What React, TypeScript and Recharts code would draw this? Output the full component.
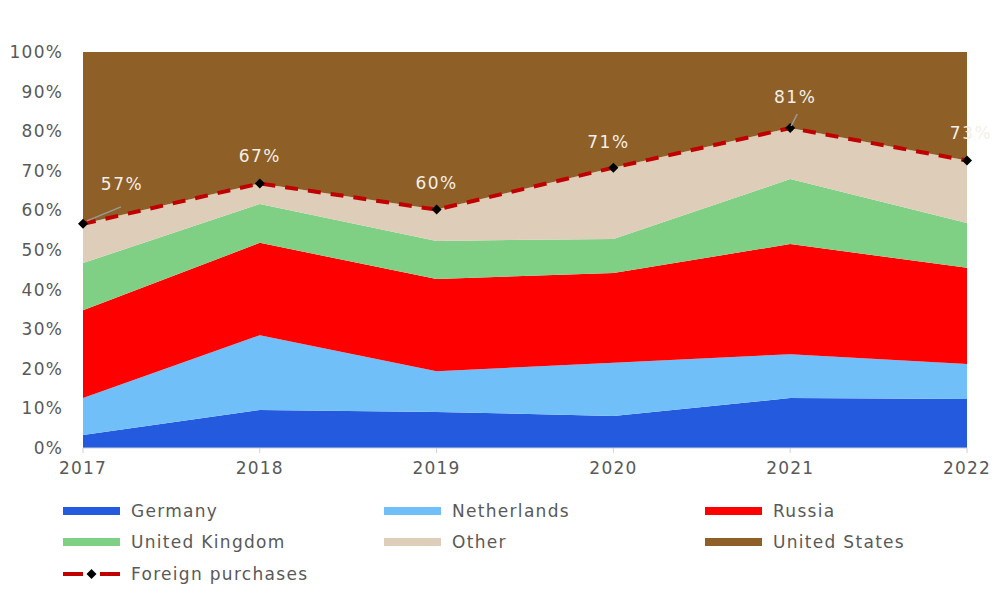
import { ComposedChart, Area, Line, XAxis, YAxis, LabelList } from 'recharts';

const years = ['2017', '2018', '2019', '2020', '2021', '2022'];
const germany = [3.3, 9.6, 9.1, 8.1, 12.6, 12.4];
const netherlands = [9.3, 18.9, 10.3, 13.4, 11.1, 8.8];
const russia = [22.2, 23.3, 23.3, 22.7, 27.8, 24.3];
const unitedKingdom = [11.9, 9.8, 9.6, 8.6, 16.4, 11.3];
const other = [9.9, 5.2, 7.9, 18.0, 12.9, 15.8];
const unitedStates = [43.4, 33.2, 39.8, 29.2, 19.2, 27.4];
const foreignPurchases = [56.6, 66.8, 60.2, 70.8, 80.8, 72.6];
const yTicks = [0, 10, 20, 30, 40, 50, 60, 70, 80, 90, 100];

const data = years.map((year, i) => ({
  year,
  germany: germany[i],
  netherlands: netherlands[i],
  russia: russia[i],
  uk: unitedKingdom[i],
  other: other[i],
  us: unitedStates[i],
  foreign: foreignPurchases[i],
}));

const FONT = '"DejaVu Sans", sans-serif';
const GREY = '#595959';
const LABEL = '#F4EFE7';

const series = [
  { key: 'germany', name: 'Germany', color: '#245BDE' },
  { key: 'netherlands', name: 'Netherlands', color: '#70BFF9' },
  { key: 'russia', name: 'Russia', color: '#FF0000' },
  { key: 'uk', name: 'United Kingdom', color: '#7FCF85' },
  { key: 'other', name: 'Other', color: '#DDCDB9' },
  { key: 'us', name: 'United States', color: '#8E5F27' },
];

const Diamond = (props: any) => {
  const { cx, cy } = props;
  if (cx == null || cy == null) return null;
  const s = 5;
  return (
    <path
      d={`M${cx},${cy - s} L${cx + s},${cy} L${cx},${cy + s} L${cx - s},${cy} Z`}
      fill="#000"
    />
  );
};

const labelText = (x: number, y: number, text: string) => (
  <text
    x={x}
    y={y}
    fill={LABEL}
    fontSize={17}
    fontFamily={FONT}
    letterSpacing={1.5}
    textAnchor="middle"
    dominantBaseline="middle"
  >
    {text}
  </text>
);

const PointLabel = (props: any) => {
  const { x, y, value, index } = props;
  const text = `${Math.round(value)}%`;
  if (index === 0) {
    return (
      <g>
        <line x1={x + 4} y1={y - 3} x2={x + 38} y2={y - 17} stroke="#9a9a9a" strokeWidth={1.5} />
        {labelText(x + 39, y - 39, text)}
      </g>
    );
  }
  if (index === 4) {
    return (
      <g>
        <line x1={x + 1} y1={y - 2} x2={x + 7} y2={y - 14} stroke="#9a9a9a" strokeWidth={1.5} />
        {labelText(x + 5, y - 30, text)}
      </g>
    );
  }
  if (index === 5) return labelText(x + 4, y - 27, text);
  if (index === 3) return labelText(x - 5, y - 25, text);
  return labelText(x, y - 26, text);
};

const legendRows = [
  [series[0], series[1], series[2]],
  [series[3], series[4], series[5]],
];

export default function App() {
  return (
    <div style={{ position: 'absolute', left: 0, top: 0, width: 1000, height: 595, background: '#fff', fontFamily: FONT }}>
      <ComposedChart
        width={1000}
        height={490}
        data={data}
        margin={{ top: 52, right: 33, left: 8, bottom: 4 }}
      >
        <XAxis
          dataKey="year"
          tick={{ fill: GREY, fontSize: 17, fontFamily: FONT, letterSpacing: 1.2 }}
          tickLine={{ stroke: '#d0d0d0' }}
          axisLine={{ stroke: '#d0d0d0' }}
          tickSize={5}
          tickMargin={9}
          height={38}
        />
        <YAxis
          domain={[0, 100]}
          ticks={yTicks}
          tickFormatter={(v: number) => `${v}%`}
          tick={{ fill: GREY, fontSize: 17, fontFamily: FONT, letterSpacing: 1.2 }}
          tickLine={false}
          axisLine={false}
          tickSize={0}
          tickMargin={20}
          width={75}
          interval={0}
        />
        {series.map((s) => (
          <Area
            key={s.key}
            dataKey={s.key}
            name={s.name}
            stackId="share"
            type="linear"
            stroke="none"
            fill={s.color}
            fillOpacity={1}
            isAnimationActive={false}
          />
        ))}
        <Line
          dataKey="foreign"
          name="Foreign purchases"
          type="linear"
          stroke="#C00000"
          strokeWidth={4}
          strokeDasharray="13 10"
          dot={<Diamond />}
          activeDot={false}
          isAnimationActive={false}
        >
          <LabelList dataKey="foreign" content={<PointLabel />} />
        </Line>
      </ComposedChart>
      <div style={{ position: 'absolute', left: 63, top: 495, width: 960, color: GREY, fontSize: 17, letterSpacing: 1.3 }}>
        {legendRows.map((row, r) => (
          <div key={r} style={{ display: 'flex', height: 31.5, alignItems: 'center' }}>
            {row.map((s) => (
              <div key={s.key} style={{ display: 'flex', alignItems: 'center', width: 321, flexShrink: 0 }}>
                <span style={{ display: 'inline-block', width: 57, height: 8, background: s.color, marginRight: 11 }} />
                <span>{s.name}</span>
              </div>
            ))}
          </div>
        ))}
        <div style={{ display: 'flex', height: 31.5, alignItems: 'center' }}>
          <svg width={57} height={10} style={{ marginRight: 11 }}>
            <line x1={0} y1={5} x2={20} y2={5} stroke="#C00000" strokeWidth={4} />
            <line x1={37} y1={5} x2={57} y2={5} stroke="#C00000" strokeWidth={4} />
            <path d="M28.5,0 L33.5,5 L28.5,10 L23.5,5 Z" fill="#000" />
          </svg>
          <span>Foreign purchases</span>
        </div>
      </div>
    </div>
  );
}
